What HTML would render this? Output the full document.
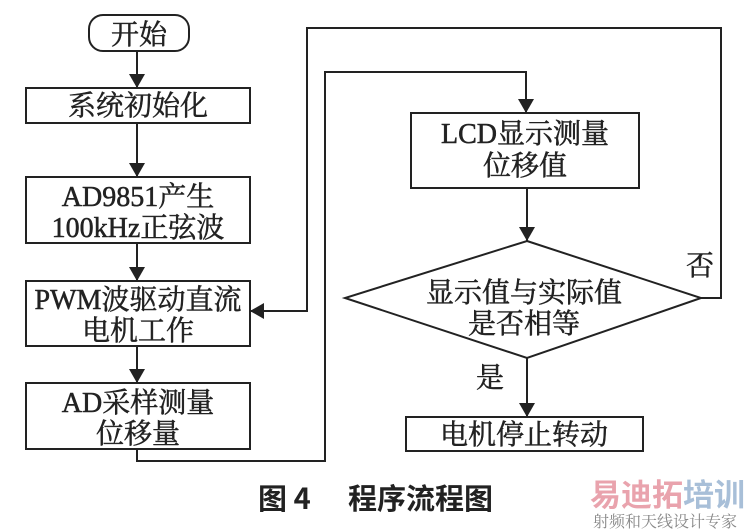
<!DOCTYPE html>
<html><head><meta charset="utf-8"><style>
body{margin:0;background:#fff;}
svg{display:block}
text{font-family:"Liberation Serif","Noto Serif CJK SC","Noto Sans CJK SC",serif;fill:#222;}
.n{stroke:#222;stroke-width:0.5}
</style></head><body>
<svg width="746" height="530" viewBox="0 0 746 530" xmlns="http://www.w3.org/2000/svg">
<defs>
<marker id="b" markerWidth="14" markerHeight="16" refX="14" refY="8" orient="auto" markerUnits="userSpaceOnUse"><path d="M0,0 L14,8 L0,16 z" fill="#222"/></marker></defs>
<g stroke="#222" stroke-width="2" fill="none">
<rect x="89" y="15" width="100" height="36" rx="14"/>
<rect x="26" y="88" width="224" height="35"/>
<rect x="26" y="177" width="224" height="66"/>
<rect x="26" y="281" width="224" height="65"/>
<rect x="26" y="383" width="224" height="66"/>
<rect x="411" y="113" width="228" height="75"/>
<polygon points="527,241 701,298 527,358 345,298"/>
<rect x="406" y="417" width="237" height="34"/>
<line x1="137" y1="51" x2="137" y2="88" marker-end="url(#b)"/>
<line x1="137" y1="123" x2="137" y2="177" marker-end="url(#b)"/>
<line x1="137" y1="243" x2="137" y2="281" marker-end="url(#b)"/>
<line x1="137" y1="346" x2="137" y2="383" marker-end="url(#b)"/>
<polyline points="137,449 137,461 325,461 325,72 526,72 526,113" marker-end="url(#b)"/>
<line x1="527" y1="188" x2="527" y2="241" marker-end="url(#b)"/>
<line x1="527" y1="358" x2="527" y2="417" marker-end="url(#b)"/>
<polyline points="701,298 721,298 721,28 307,28 307,311 250,311" marker-end="url(#b)"/>
</g>
<g font-size="28" text-anchor="middle" class="n">
<text x="139" y="44">开始</text>
<text x="138" y="115">系统初始化</text>
<text x="138" y="206">AD9851产生</text>
<text x="138" y="237">100kHz正弦波</text>
<text x="138" y="309">PWM波驱动直流</text>
<text x="138" y="340">电机工作</text>
<text x="138" y="412">AD采样测量</text>
<text x="138" y="443">位移量</text>
<text x="525" y="143">LCD显示测量</text>
<text x="525" y="175">位移值</text>
<text x="524" y="302">显示值与实际值</text>
<text x="524" y="333">是否相等</text>
<text x="524" y="444">电机停止转动</text>
<text x="700" y="275">否</text>
<text x="490" y="387">是</text>
</g>
<text x="258" y="509" font-size="29" font-weight="bold" style="font-family:'Noto Sans CJK SC',sans-serif">图 4</text>
<text x="348" y="509" font-size="29" font-weight="bold" style="font-family:'Noto Sans CJK SC',sans-serif">程序流程图</text>
<text x="590" y="506" font-size="31" font-weight="bold" style="fill:#e9a3ad;font-family:'Noto Sans CJK SC',sans-serif">易迪拓</text>
<text x="683" y="506" font-size="31" font-weight="bold" style="fill:#a8bfd8;font-family:'Noto Sans CJK SC',sans-serif">培训</text>
<text x="593" y="527" font-size="16" style="fill:#888">射频和天线设计专家</text>
</svg>
</body></html>
